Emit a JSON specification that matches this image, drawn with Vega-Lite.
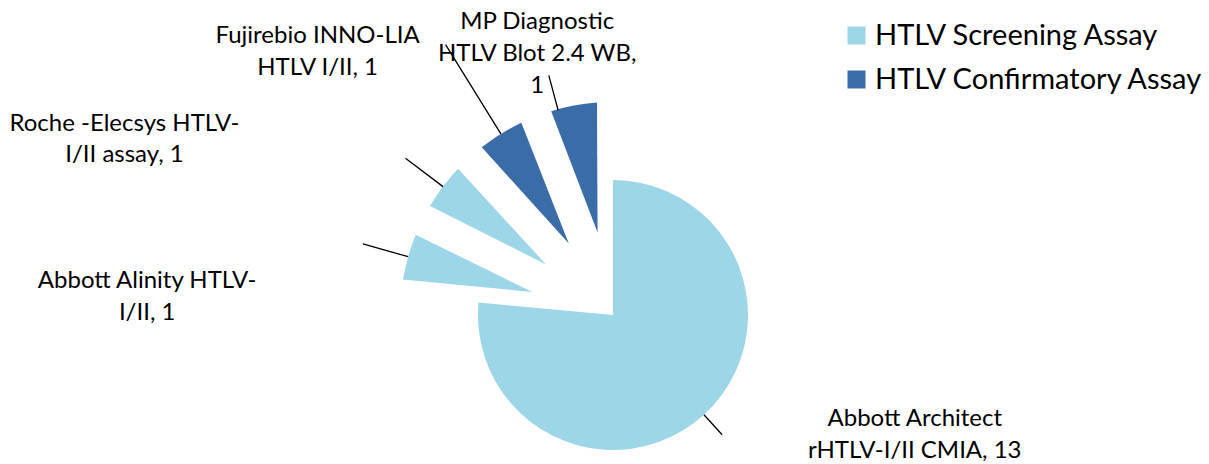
{
  "$schema": "https://vega.github.io/schema/vega-lite/v6.json",
  "width": 1192,
  "height": 298,
  "autosize": {"type": "none"},
  "padding": {"left": 17, "top": 166, "right": 0, "bottom": 0},
  "background": "white",
  "config": {"view": {"stroke": null}, "font": "Lato"},
  "data": {
    "values": [
      {"assay": "Abbott Architect rHTLV-I/II CMIA", "label": "Abbott Architect\nrHTLV-I/II CMIA, 13", "type": "HTLV Screening Assay", "count": 13, "seq": 1},
      {"assay": "Abbott Alinity HTLV-I/II", "label": "Abbott Alinity HTLV-\nI/II, 1", "type": "HTLV Screening Assay", "count": 1, "seq": 2},
      {"assay": "Roche -Elecsys HTLV-I/II assay", "label": "Roche -Elecsys HTLV-\nI/II assay, 1", "type": "HTLV Screening Assay", "count": 1, "seq": 3},
      {"assay": "Fujirebio INNO-LIA HTLV I/II", "label": "Fujirebio INNO-LIA\nHTLV I/II, 1", "type": "HTLV Confirmatory Assay", "count": 1, "seq": 4},
      {"assay": "MP Diagnostic HTLV Blot 2.4 WB", "label": "MP Diagnostic\nHTLV Blot 2.4 WB,\n1", "type": "HTLV Confirmatory Assay", "count": 1, "seq": 5}
    ]
  },
  "encoding": {
    "theta": {"field": "count", "type": "quantitative", "stack": true},
    "order": {"field": "seq", "type": "quantitative"}
  },
  "layer": [
    {
      "mark": {"type": "arc", "radius": 135},
      "encoding": {
        "color": {
          "field": "type",
          "type": "nominal",
          "scale": {"domain": ["HTLV Screening Assay", "HTLV Confirmatory Assay"], "range": ["#9dd6e6", "#3a6ca8"]},
          "legend": {
            "title": null,
            "orient": "none",
            "legendX": 825,
            "legendY": -145,
            "symbolType": "square",
            "symbolSize": 324,
            "symbolStrokeWidth": 0,
            "labelFontSize": 29,
            "labelFont": "Lato",
            "labelOffset": 4,
            "rowPadding": 14,
            "labelColor": "black",
            "labelLimit": 500
          }
        },
        "opacity": {"condition": {"test": "datum.seq === 1", "value": 1}, "value": 0}
      }
    },
    {
      "mark": {"type": "arc", "radius": 213, "radius2": 84, "padAngle": 0.14},
      "encoding": {
        "color": {"field": "type", "type": "nominal"},
        "opacity": {"condition": {"test": "datum.seq === 1", "value": 0}, "value": 1}
      }
    },
    {
      "transform": [
        {"stack": "count", "groupby": [], "sort": [{"field": "seq", "order": "ascending"}], "as": ["s0", "s1"]}
      ],
      "mark": {"type": "arc", "radius": 162, "radius2": 135, "padAngle": 3, "thetaOffset": 2.2, "theta2Offset": -2.2, "fill": null, "stroke": "black", "strokeWidth": 1.3},
      "encoding": {
        "theta": {"field": "s0", "type": "quantitative"},
        "theta2": {"field": "s1"},
        "opacity": {"condition": {"test": "datum.seq === 1", "value": 1}, "value": 0}
      }
    },
    {
      "mark": {"type": "arc", "radius": 260, "radius2": 213, "padAngle": 3, "fill": null, "stroke": "black", "strokeWidth": 1.3},
      "encoding": {"opacity": {"condition": {"test": "datum.seq === 2 || datum.seq === 3", "value": 1}, "value": 0}}
    },
    {
      "mark": {"type": "arc", "radius": 318, "radius2": 213, "padAngle": 3, "fill": null, "stroke": "black", "strokeWidth": 1.3},
      "encoding": {"opacity": {"condition": {"test": "datum.seq === 4", "value": 1}, "value": 0}}
    },
    {
      "transform": [
        {"stack": "count", "groupby": [], "sort": [{"field": "seq", "order": "ascending"}], "as": ["s0", "s1"]}
      ],
      "mark": {"type": "arc", "radius": 248, "radius2": 212, "padAngle": 3, "thetaOffset": -0.077, "theta2Offset": -0.077, "fill": null, "stroke": "black", "strokeWidth": 1.3},
      "encoding": {
        "theta": {"field": "s0", "type": "quantitative"},
        "theta2": {"field": "s1"},
        "opacity": {"condition": {"test": "datum.seq === 5", "value": 1}, "value": 0}
      }
    },
    {
      "mark": {"type": "text", "radius": 160, "dx": 194, "dy": -14, "fontSize": 24, "lineBreak": "\n", "lineHeight": 32, "align": "center", "baseline": "middle", "color": "black"},
      "encoding": {"text": {"field": "label"}, "opacity": {"condition": {"test": "datum.seq === 1", "value": 1}, "value": 0}}
    },
    {
      "mark": {"type": "text", "radius": 240, "dx": -235, "dy": 32, "fontSize": 24, "lineBreak": "\n", "lineHeight": 32, "align": "center", "baseline": "middle", "color": "black"},
      "encoding": {"text": {"field": "label"}, "opacity": {"condition": {"test": "datum.seq === 2", "value": 1}, "value": 0}}
    },
    {
      "mark": {"type": "text", "radius": 240, "dx": -297, "dy": -46, "fontSize": 24, "lineBreak": "\n", "lineHeight": 31, "align": "center", "baseline": "middle", "color": "black"},
      "encoding": {"text": {"field": "label"}, "opacity": {"condition": {"test": "datum.seq === 3", "value": 1}, "value": 0}}
    },
    {
      "mark": {"type": "text", "radius": 318, "dx": -128, "dy": -9, "fontSize": 24, "lineBreak": "\n", "lineHeight": 32, "align": "center", "baseline": "middle", "color": "black"},
      "encoding": {"text": {"field": "label"}, "opacity": {"condition": {"test": "datum.seq === 4", "value": 1}, "value": 0}}
    },
    {
      "mark": {"type": "text", "radius": 255, "dx": -29, "dy": -42, "fontSize": 24, "lineBreak": "\n", "lineHeight": 32, "align": "center", "baseline": "middle", "color": "black"},
      "encoding": {"text": {"field": "label"}, "opacity": {"condition": {"test": "datum.seq === 5", "value": 1}, "value": 0}}
    }
  ]
}
